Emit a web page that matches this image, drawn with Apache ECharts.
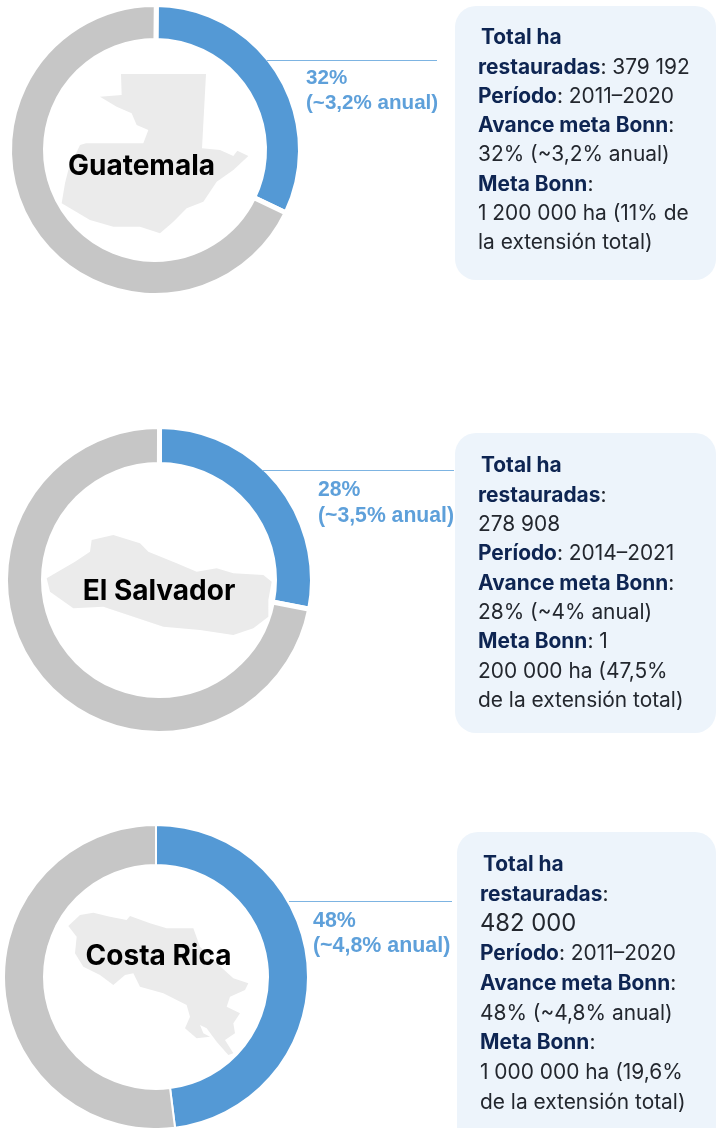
<!DOCTYPE html>
<html>
<head>
<meta charset="utf-8">
<style>html,body{margin:0;padding:0;background:#fff}#c{width:720px;height:1128px}</style>
<script src="https://cdn.jsdelivr.net/npm/echarts@6/dist/echarts.min.js"></script>
</head>
<body>
<div id="c"></div>
<script>
const countries = ['Guatemala', 'El Salvador', 'Costa Rica'];
const avance = [32, 28, 48];
const resto = [68, 72, 52];
const anual = ['(~3,2% anual)', '(~3,5% anual)', '(~4,8% anual)'];

const panelGuatemala = [
  [['b', 'Total ha']],
  [['b', 'restauradas'], ['n', ': 379 192']],
  [['b', 'Período'], ['n', ': 2011–2020']],
  [['b', 'Avance meta Bonn'], ['n', ':']],
  [['n', '32% (~3,2% anual)']],
  [['b', 'Meta Bonn'], ['n', ':']],
  [['n', '1 200 000 ha (11% de']],
  [['n', 'la extensión total)']]
];
const panelSalvador = [
  [['b', 'Total ha']],
  [['b', 'restauradas'], ['n', ':']],
  [['n', '278 908']],
  [['b', 'Período'], ['n', ': 2014–2021']],
  [['b', 'Avance meta Bonn'], ['n', ':']],
  [['n', '28% (~4% anual)']],
  [['b', 'Meta Bonn'], ['n', ': 1']],
  [['n', '200 000 ha (47,5%']],
  [['n', 'de la extensión total)']]
];
const panelCostaRica = [
  [['b', 'Total ha']],
  [['b', 'restauradas'], ['n', ':']],
  [['l', '482 000']],
  [['b', 'Período'], ['n', ': 2011–2020']],
  [['b', 'Avance meta Bonn'], ['n', ':']],
  [['n', '48% (~4,8% anual)']],
  [['b', 'Meta Bonn'], ['n', ':']],
  [['n', '1 000 000 ha (19,6%']],
  [['n', 'de la extensión total)']]
];

// Country silhouettes (decorative), traced at 3x from each ring's crop
const shapeGuatemala = [[363,222],[618,222],[606,445],[660,450],[700,468],[712,452],[745,468],[700,510],[650,545],[620,590],[610,605],[560,625],[520,665],[480,700],[420,680],[340,680],[270,660],[185,610],[195,550],[205,510],[240,435],[258,430],[430,430],[445,390],[410,375],[395,340],[350,320],[300,290],[365,285]];
const shapeSalvador = [[140,475],[225,425],[270,395],[275,360],[340,345],[420,370],[445,395],[530,430],[590,455],[650,445],[700,460],[790,465],[815,485],[805,540],[805,590],[760,625],[700,645],[600,630],[490,620],[400,590],[310,560],[220,565],[150,515]];
const shapeCostaRica = [[205,318],[240,285],[280,278],[330,290],[380,300],[390,288],[450,310],[500,325],[580,325],[600,380],[650,430],[700,475],[745,490],[735,510],[690,530],[680,560],[720,580],[700,610],[705,640],[675,660],[700,700],[685,705],[650,665],[620,625],[600,615],[610,640],[630,650],[590,655],[555,625],[570,590],[560,555],[490,520],[420,500],[400,460],[375,465],[340,495],[300,465],[250,440],[225,400],[230,350]];

const BLUE = '#5499d5', GREY = '#c6c6c6', MAP = '#ebebeb', PANEL = '#edf4fb', LINE = '#7db4e2', LABEL = '#5ea0da';
const NAVY = '#0e2552', INK = '#23272e';
const FONT = 'Inter, sans-serif';

const layout = [
  { cx: 155, cy: 150, r: 143, r0: 112, gap: 5, start: 89.5, shape: shapeGuatemala, oy: 0,
    name: [141.5, 167], line: [267, 437, 60], label: [306, 78, 103], labelSize: 20.6,
    panel: [455, 6, 261, 274], textX: 478, indent: 3, rows: panelGuatemala, y0: 38, pitch: 29.3 },
  { cx: 159, cy: 580, r: 151, r0: 118, gap: 5, start: 89.8, shape: shapeSalvador, oy: 420,
    name: [159, 592], line: [263, 454, 470], label: [318, 490, 516], labelSize: 21.2,
    panel: [455, 433, 261, 300], textX: 478, indent: 3, rows: panelSalvador, y0: 466, pitch: 29.35 },
  { cx: 156, cy: 977, r: 151, r0: 113, gap: 2, start: 90, shape: shapeCostaRica, oy: 820,
    name: [158.5, 957], line: [289, 452, 901], label: [313, 921, 946], labelSize: 21.4,
    panel: [457, 832, 259, 320], textX: 480, indent: 3, rows: panelCostaRica, y0: 864.5, pitch: 29.75 }
];

const series = layout.map((l, i) => ({
  type: 'pie',
  center: [l.cx, l.cy],
  radius: [l.r0 - l.gap / 2, l.r + l.gap / 2],
  startAngle: l.start,
  silent: true,
  animation: false,
  label: { show: false },
  labelLine: { show: false },
  itemStyle: { borderColor: '#fff', borderWidth: l.gap },
  data: [
    { name: 'Avance meta Bonn', value: avance[i], itemStyle: { color: BLUE } },
    { name: 'Restante', value: resto[i], itemStyle: { color: GREY } }
  ]
}));

const graphic = [];
layout.forEach((l, i) => {
  graphic.push({
    type: 'polygon', silent: true, z: 5,
    shape: { points: l.shape.map(p => [p[0] / 3, p[1] / 3 + l.oy]) },
    style: { fill: MAP }
  });
  graphic.push({
    type: 'text', silent: true, z: 6, x: l.name[0], y: l.name[1],
    style: { text: countries[i], fill: '#000', font: '700 28px ' + FONT, align: 'center', verticalAlign: 'middle' }
  });
  graphic.push({
    type: 'rect', silent: true, z: 3,
    shape: { x: l.panel[0], y: l.panel[1], width: l.panel[2], height: l.panel[3], r: 21 },
    style: { fill: PANEL }
  });
  graphic.push({
    type: 'line', silent: true, z: 4,
    shape: { x1: l.line[0], y1: l.line[2] + 0.5, x2: l.line[1], y2: l.line[2] + 0.5 },
    style: { stroke: LINE, lineWidth: 1 }
  });
  graphic.push({
    type: 'text', silent: true, z: 4, x: l.label[0], y: l.label[1],
    style: { text: avance[i] + '%', fill: LABEL, font: '700 ' + l.labelSize + 'px "Liberation Sans", sans-serif', verticalAlign: 'middle' }
  });
  graphic.push({
    type: 'text', silent: true, z: 4, x: l.label[0], y: l.label[2],
    style: { text: anual[i], fill: LABEL, font: '700 ' + l.labelSize + 'px "Liberation Sans", sans-serif', verticalAlign: 'middle' }
  });
  l.rows.forEach((row, k) => {
    graphic.push({
      type: 'text', silent: true, z: 7,
      x: l.textX + (k === 0 ? l.indent : 0),
      y: l.y0 + k * l.pitch,
      style: {
        text: row.map(s => '{' + s[0] + '|' + s[1] + '}').join(''),
        verticalAlign: 'middle',
        rich: {
          b: { font: '700 20.9px ' + FONT, fill: NAVY },
          n: { font: '400 20.9px ' + FONT, fill: INK },
          l: { font: '400 23.8px ' + FONT, fill: INK }
        }
      }
    });
  });
});
// the first label is cut off by its column edge in the source
graphic.push({ type: 'rect', silent: true, z: 5, shape: { x: 438, y: 90, width: 17, height: 25 }, style: { fill: '#fff' } });

const chart = echarts.init(document.getElementById('c'), null, { renderer: 'canvas' });
chart.setOption({ animation: false, backgroundColor: '#fff', series, graphic });
</script>
</body>
</html>
